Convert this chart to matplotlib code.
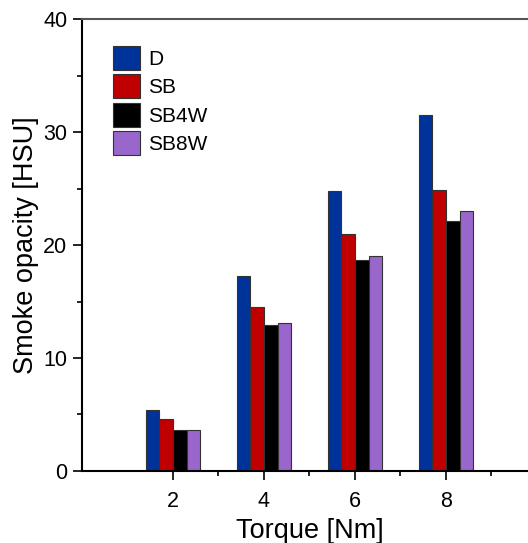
import matplotlib
matplotlib.use('Agg')
import matplotlib.pyplot as plt
from matplotlib.ticker import FixedLocator, MultipleLocator
import numpy as np

plt.rcParams['font.family'] = ['Liberation Sans', 'DejaVu Sans']

torque = [2, 4, 6, 8]
minor_x = [3, 5, 7, 9]
series = ['D', 'SB', 'SB4W', 'SB8W']
values = {
    'D': [5.4, 17.3, 24.8, 31.5],
    'SB': [4.6, 14.5, 21.0, 24.9],
    'SB4W': [3.6, 12.9, 18.7, 22.1],
    'SB8W': [3.6, 13.1, 19.0, 23.0],
}
colors = ['#003399', '#c00000', '#000000', '#9966cc']

fig = plt.figure(figsize=(5.28, 5.43), dpi=100)
ax = fig.add_axes([0.155, 0.1326, 0.862, 0.8324])

width = 0.3
x = np.array(torque, dtype=float)
for i, name in enumerate(series):
    offset = (i - 1.5) * width
    ax.bar(x + offset, values[name], width=width, color=colors[i],
           edgecolor='#333333', linewidth=0.8, label=name)

ax.set_xlim(0, 10)
ax.set_ylim(0, 40)
ax.set_xticks(torque)
ax.xaxis.set_minor_locator(FixedLocator(minor_x))
ax.yaxis.set_major_locator(MultipleLocator(10))
ax.yaxis.set_minor_locator(MultipleLocator(5))
ax.tick_params(axis='both', which='major', direction='out', length=6.5, width=1.2,
               labelsize=15.5)
ax.tick_params(axis='x', which='major', pad=8)
ax.tick_params(axis='y', which='major', pad=4)
ax.tick_params(axis='both', which='minor', direction='out', length=3.5, width=1.2)

for side in ['left', 'bottom']:
    ax.spines[side].set_linewidth(1.5)
    ax.spines[side].set_color('black')
ax.spines['top'].set_color('#555555')
ax.spines['top'].set_linewidth(1.5)
ax.spines['right'].set_visible(False)

ax.set_xlabel('Torque [Nm]', fontsize=19.5, labelpad=4)
ax.set_ylabel('Smoke opacity [HSU]', fontsize=19.5, labelpad=3)

ax.legend(loc='upper left', bbox_to_anchor=(0.068, 0.94), frameon=False, fontsize=15,
          handlelength=1.3, handleheight=1.4, labelspacing=0.2, handletextpad=0.4,
          borderpad=0, borderaxespad=0)

fig.savefig('out.png', dpi=100)
